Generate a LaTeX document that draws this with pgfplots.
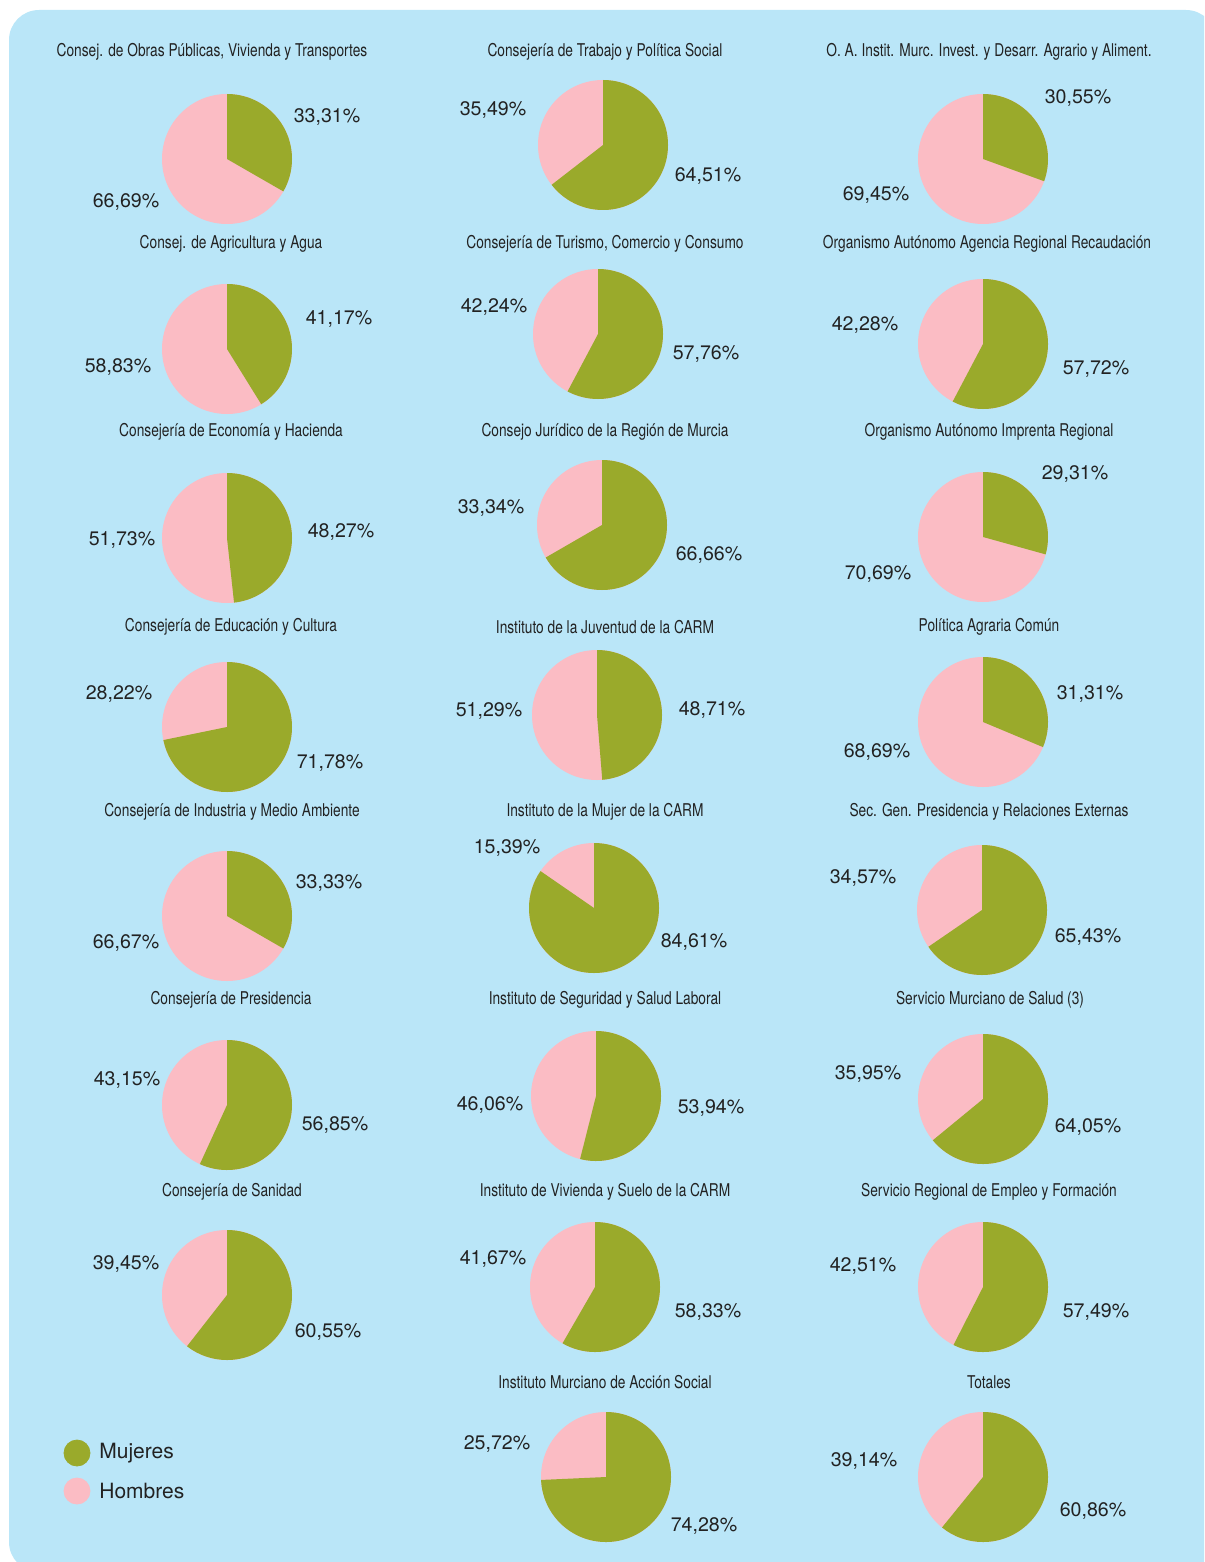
\documentclass[border=0pt]{standalone}
\usepackage{pgfplots}
\pgfplotsset{compat=1.18}
\usepackage{fontspec}
\setmainfont{TeX Gyre Heros}
\newfontfamily\titlefont{TeX Gyre Heros}[FakeStretch=0.78]
\definecolor{bg}{HTML}{BAE6F8}
\definecolor{muj}{HTML}{9AAA2B}
\definecolor{hom}{HTML}{FBBCC4}
\definecolor{txt}{HTML}{222222}
% pie: centre x, centre y (pixels), share of Mujeres (%)
\newcommand{\pie}[3]{%
  \fill[hom] (axis cs:#1,#2) circle[radius=32.5pt];
  \fill[muj] (axis cs:#1,#2) -- ++(90:32.5pt) arc[start angle=90, delta angle=-3.6*#3, radius=32.5pt] -- cycle;}
\newcommand{\ttl}[3]{\node[font=\titlefont\fontsize{8.8}{10}\selectfont, text=txt, inner sep=0pt] at (axis cs:#1,#2) {#3};}
\newcommand{\lab}[3]{\node[font=\fontsize{9.8}{11}\selectfont, text=txt, inner sep=0pt] at (axis cs:#1,#2) {#3\%};}
\begin{document}
\begin{tikzpicture}
\begin{axis}[scale only axis, width=602pt, height=781pt,
  xmin=0, xmax=1204, ymin=0, ymax=1562, y dir=reverse,
  hide axis, clip=true]
\coordinate (BBa) at (axis cs:0,0);
\coordinate (BBb) at (axis cs:1204,1562);
\fill[bg, rounded corners=15pt] (axis cs:9,10) rectangle (axis cs:1216,1572);
% ---------- column 1
\ttl{212}{52}{Consej. de Obras Públicas, Vivienda y Transportes}
\pie{227}{159}{33.31}
\lab{327}{117}{33,31}\lab{126}{202}{66,69}
\ttl{231}{244}{Consej. de Agricultura y Agua}
\pie{227}{349}{41.17}
\lab{339}{319}{41,17}\lab{118}{367}{58,83}
\ttl{231}{432}{Consejería de Economía y Hacienda}
\pie{227}{538}{48.27}
\lab{341}{532}{48,27}\lab{122}{540}{51,73}
\ttl{231}{627}{Consejería de Educación y Cultura}
\pie{227}{727}{71.78}
\lab{330}{763}{71,78}\lab{119}{694}{28,22}
\ttl{232}{812}{Consejería de Industria y Medio Ambiente}
\pie{227}{916}{33.33}
\lab{329}{883}{33,33}\lab{126}{943}{66,67}
\ttl{231}{1000}{Consejería de Presidencia}
\pie{227}{1105}{56.85}
\lab{335}{1125}{56,85}\lab{127}{1080}{43,15}
\ttl{232}{1192}{Consejería de Sanidad}
\pie{227}{1295}{60.55}
\lab{328}{1332}{60,55}\lab{126}{1264}{39,45}
% ---------- column 2
\ttl{605}{52}{Consejería de Trabajo y Política Social}
\pie{603}{145}{64.51}
\lab{708}{176}{64,51}\lab{493}{110}{35,49}
\ttl{605}{244}{Consejería de Turismo, Comercio y Consumo}
\pie{598}{334}{57.76}
\lab{706}{354}{57,76}\lab{494}{307}{42,24}
\ttl{605}{432}{Consejo Jurídico de la Región de Murcia}
\pie{602}{525}{66.66}
\lab{709}{555}{66,66}\lab{491}{508}{33,34}
\ttl{605}{627}{Instituto de la Juventud de la CARM}
\pie{597}{715}{48.71}
\lab{712}{710}{48,71}\lab{489}{711}{51,29}
\ttl{605}{812}{Instituto de la Mujer de la CARM}
\pie{594}{908}{84.61}
\lab{694}{942}{84,61}\lab{507}{848}{15,39}
\ttl{605}{1000}{Instituto de Seguridad y Salud Laboral}
\pie{596}{1096}{53.94}
\lab{711}{1108}{53,94}\lab{490}{1105}{46,06}
\ttl{605}{1192}{Instituto de Vivienda y Suelo de la CARM}
\pie{595}{1287}{58.33}
\lab{708}{1312}{58,33}\lab{493}{1259}{41,67}
\ttl{605}{1382}{Instituto Murciano de Acción Social}
\pie{606}{1477}{74.28}
\lab{704}{1526}{74,28}\lab{497}{1444}{25,72}
% ---------- column 3
\ttl{989}{52}{O. A. Instit. Murc. Invest. y Desarr. Agrario y Aliment.}
\pie{983}{159}{30.55}
\lab{1078}{98}{30,55}\lab{876}{195}{69,45}
\ttl{987}{244}{Organismo Autónomo Agencia Regional Recaudación}
\pie{983}{344}{57.72}
\lab{1096}{369}{57,72}\lab{865}{325}{42,28}
\ttl{989}{432}{Organismo Autónomo Imprenta Regional}
\pie{983}{537}{29.31}
\lab{1075}{474}{29,31}\lab{878}{574}{70,69}
\ttl{989}{627}{Política Agraria Común}
\pie{983}{722}{31.31}
\lab{1090}{694}{31,31}\lab{877}{752}{68,69}
\ttl{989}{812}{Sec. Gen. Presidencia y Relaciones Externas}
\pie{982}{910}{65.43}
\lab{1088}{937}{65,43}\lab{863}{878}{34,57}
\ttl{990}{1000}{Servicio Murciano de Salud (3)}
\pie{983}{1099}{64.05}
\lab{1088}{1127}{64,05}\lab{868}{1074}{35,95}
\ttl{989}{1192}{Servicio Regional de Empleo y Formación}
\pie{983}{1287}{57.49}
\lab{1096}{1312}{57,49}\lab{863}{1266}{42,51}
\ttl{989}{1382}{Totales}
\pie{983}{1477}{60.86}
\lab{1093}{1511}{60,86}\lab{864}{1461}{39,14}
% ---------- legend
\addplot[only marks, mark=*, mark size=6.5pt, color=muj] coordinates {(77,1453)};
\addplot[only marks, mark=*, mark size=6.5pt, color=hom] coordinates {(77,1491)};
\node[anchor=west, font=\fontsize{10.5}{12}\selectfont, text=txt, inner sep=0pt] at (axis cs:99,1453) {Mujeres};
\node[anchor=west, font=\fontsize{10.5}{12}\selectfont, text=txt, inner sep=0pt] at (axis cs:99,1491) {Hombres};
\end{axis}
\pgfresetboundingbox
\path[use as bounding box] (BBa) rectangle (BBb);
\end{tikzpicture}
\end{document}
